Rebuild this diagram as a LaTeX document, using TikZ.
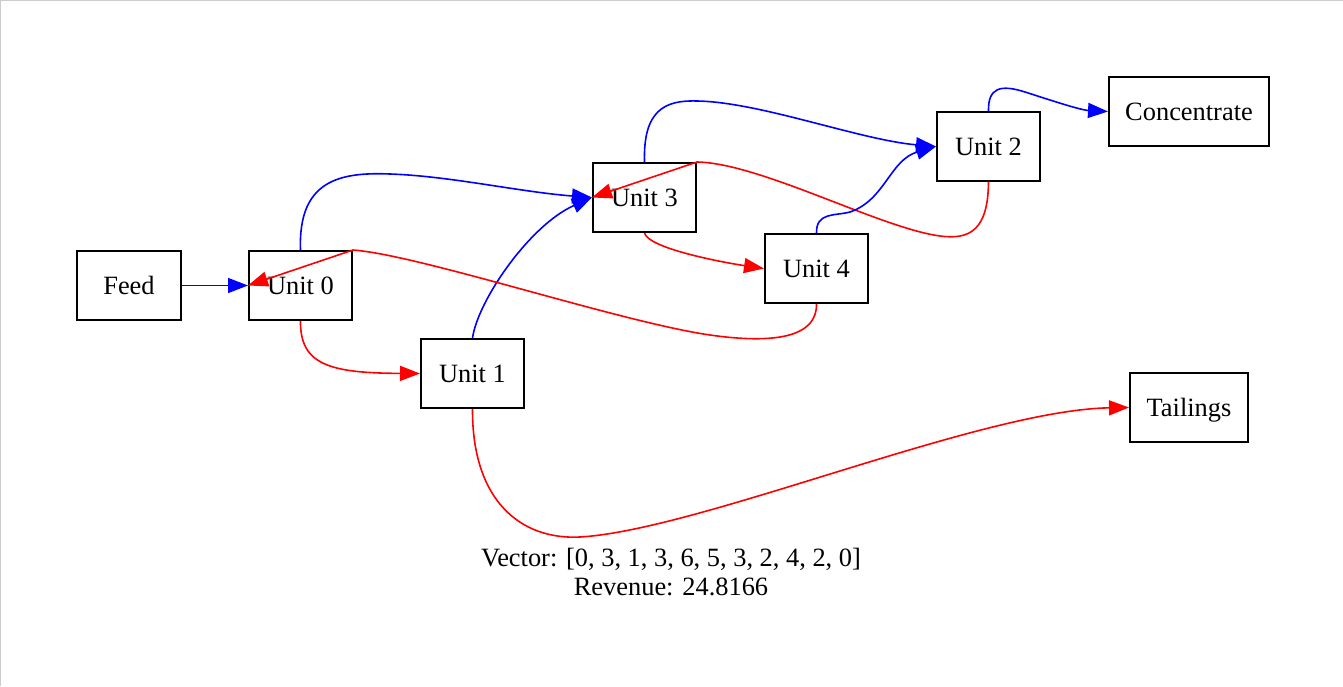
\documentclass[tikz,border=0pt]{standalone}
\usepackage{fontspec}
\setmainfont{Liberation Serif}
\usetikzlibrary{arrows.meta}
\begin{document}
\begin{tikzpicture}[x=0.5pt,y=-0.5pt,
  box/.style={draw, line width=1pt, minimum height=34.5pt, inner sep=0pt,
    text height=8.8pt, text depth=0pt,
    font=\fontsize{13.2}{15}\selectfont},
  bl/.style={draw=blue, line width=0.8pt, -{Triangle[length=10pt,width=7.5pt]}},
  rd/.style={draw=red, line width=0.8pt, -{Triangle[length=10pt,width=7.5pt]}}]
\useasboundingbox (0,0) rectangle (1343,686);
\draw[gray!40, line width=0.6pt] (0.6,686) -- (0.6,0.6) -- (1343,0.6);
\node[box, minimum width=52pt] (feed) at (129,285.5) {Feed};
\node[box, minimum width=51.5pt] (u0) at (300.5,285.5) {Unit 0};
\node[box, minimum width=51.5pt] (u1) at (472.5,373.5) {Unit 1};
\node[box, minimum width=51.5pt] (u3) at (644.5,197.5) {Unit 3};
\node[box, minimum width=51.5pt] (u4) at (816.5,268.5) {Unit 4};
\node[box, minimum width=51.5pt] (u2) at (988.5,146.5) {Unit 2};
\node[box, minimum width=80pt] (conc) at (1189,111.5) {Concentrate};
\node[box, minimum width=59pt] (tail) at (1189,407.5) {Tailings};
\node[font=\fontsize{13.2}{14.5}\selectfont, align=center] (lbl) at (671,572)
  {Vector: [0, 3, 1, 3, 6, 5, 3, 2, 4, 2, 0]\\Revenue: 24.8166};
\draw[bl] (feed) -- (u0);
\draw[bl] (u0.north) .. controls (298,180) and (340,172) .. (390,174)
  .. controls (450,176) and (520,192) .. (u3.west);
\draw[rd] (u0.south) .. controls (300,365) and (330,373) .. (u1.west);
\draw[bl] (u1.north) .. controls (478,300) and (530,225) .. (u3.west);
\draw[rd] (u4.south) .. controls (817,335) and (780,345) .. (710,335)
  .. controls (620,322) and (420,255) .. (u0.north east) -- (u0.west);
\draw[rd] (u2.south) .. controls (988,230) and (970,240) .. (940,236)
  .. controls (880,228) and (760,163) .. (u3.north east) -- (u3.west);
\draw[rd] (u3.south) .. controls (648,248) and (720,262) .. (u4.west);
\draw[bl] (u3.north) .. controls (643,110) and (665,100) .. (697,101)
  .. controls (760,102) and (860,140) .. (u2.west);
\draw[bl] (u4.north) .. controls (816,212) and (835,216) .. (850,212)
  .. controls (885,200) and (890,160) .. (u2.west);
\draw[bl] (u2.north) .. controls (988,88) and (1000,84) .. (1025,92)
  .. controls (1050,100) and (1080,110) .. (conc.west);
\draw[rd] (u1.south) .. controls (472,500) and (520,540) .. (580,537)
  .. controls (700,530) and (980,410) .. (tail.west);
\end{tikzpicture}
\end{document}
